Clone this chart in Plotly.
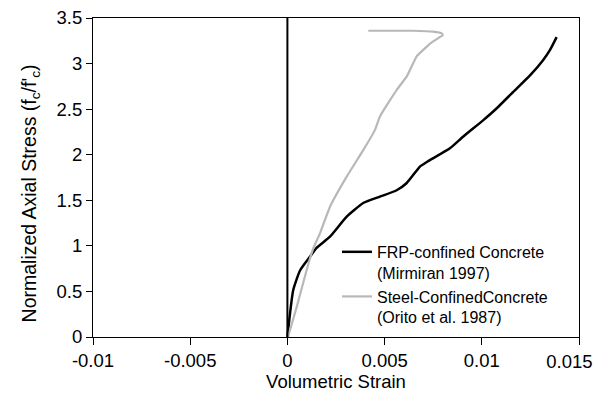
import plotly.graph_objects as go

# FRP-confined concrete (Mirmiran 1997)
frp_strain = [0.0, 0.0003, 0.00065, 0.00116, 0.0015, 0.00219, 0.00305, 0.0039, 0.00476,
              0.00562, 0.00614, 0.00682, 0.00717, 0.00836, 0.00905, 0.01008, 0.01077,
              0.01162, 0.01248, 0.01316, 0.01351, 0.01385]
frp_stress = [0.0, 0.516, 0.73, 0.88, 0.977, 1.10, 1.32, 1.47, 1.54,
              1.61, 1.69, 1.87, 1.92, 2.07, 2.20, 2.38, 2.51,
              2.69, 2.87, 3.04, 3.15, 3.29]

# Steel-confined concrete (Orito et al. 1987)
steel_strain = [0.00003, 0.00048, 0.00099, 0.00133, 0.00168, 0.00219, 0.00305, 0.0039,
                0.0045, 0.00476, 0.00562, 0.00614, 0.00665, 0.00699, 0.00734, 0.00776,
                0.00799, 0.00794, 0.0075, 0.00648, 0.00528, 0.00416]
steel_stress = [0.0, 0.33, 0.735, 0.973, 1.14, 1.43, 1.76, 2.05,
                2.27, 2.42, 2.71, 2.86, 3.08, 3.15, 3.22, 3.28,
                3.31, 3.33, 3.35, 3.36, 3.36, 3.36]

x_ticks = [-0.01, -0.005, 0, 0.005, 0.01, 0.015]
x_labels = ["-0.01", "-0.005", "0", "0.005", "0.01", ""]
x_last_tick = [0.015]
x_last_label = ["0.015"]
y_ticks = [0, 0.5, 1, 1.5, 2, 2.5, 3, 3.5]
y_labels = ["0", "0.5", "1", "1.5", "2", "2.5", "3", "3.5"]

FONT = "Liberation Sans, Arial, sans-serif"

fig = go.Figure()
fig.add_trace(go.Scatter(x=frp_strain, y=frp_stress, mode="lines",
                         line=dict(color="black", width=2.5, shape="spline", smoothing=0.5),
                         name="FRP-confined Concrete<br>(Mirmiran 1997)"))
fig.add_trace(go.Scatter(x=steel_strain, y=steel_stress, mode="lines",
                         line=dict(color="#b8b8b8", width=2.2, shape="spline", smoothing=0.4),
                         name="Steel-ConfinedConcrete<br>(Orito et al. 1987)"))
# empty trace to register the helper axis carrying the last tick label
fig.add_trace(go.Scatter(x=[], y=[], xaxis="x2", yaxis="y", showlegend=False,
                         hoverinfo="skip"))

fig.add_shape(type="line", x0=0, x1=0, y0=0, y1=3.5, xref="x", yref="y",
              line=dict(color="black", width=2))

fig.add_annotation(text="Normalized Axial Stress (f<sub>c</sub>/f'<sub>c</sub>)",
                   xref="paper", yref="paper", x=0, y=0.45, xanchor="center",
                   yanchor="middle", xshift=-63, textangle=-90, showarrow=False,
                   font=dict(size=19.5))

fig.update_layout(
    width=595, height=404,
    margin=dict(l=93, r=16, t=18, b=67, autoexpand=False),
    paper_bgcolor="white", plot_bgcolor="white",
    font=dict(family=FONT, size=16, color="black"),
    showlegend=True,
    legend=dict(x=0.502, y=0.32, xanchor="left", yanchor="top",
                bgcolor="rgba(0,0,0,0)", font=dict(size=16),
                valign="top", tracegroupgap=0),
    xaxis=dict(range=[-0.01, 0.015], tickvals=x_ticks, ticktext=x_labels,
               showgrid=False, zeroline=False, showline=True, mirror=True,
               linecolor="black", linewidth=1, ticks="outside", ticklen=7,
               tickcolor="black", tickfont=dict(size=18.5), automargin=False,
               title=dict(text="Volumetric Strain", font=dict(size=18.5), standoff=2)),
    xaxis2=dict(range=[-0.01, 0.015], overlaying="x", anchor="y", side="bottom",
                tickvals=x_last_tick, ticktext=x_last_label,
                showgrid=False, zeroline=False, showline=False,
                ticks="outside", ticklen=7, tickcolor="black",
                tickfont=dict(size=18.5), automargin=False,
                ticklabelposition="outside left", ticklabelshift=14,
                ticklabelstandoff=8, ticklabeloverflow="allow"),
    yaxis=dict(range=[0, 3.5], tickvals=y_ticks, ticktext=y_labels,
               showgrid=False, zeroline=False, showline=True, mirror=True,
               linecolor="black", linewidth=1, ticks="outside", ticklen=6,
               tickcolor="black", tickfont=dict(size=18.5), automargin=False),
)

fig.write_html("out.html")
